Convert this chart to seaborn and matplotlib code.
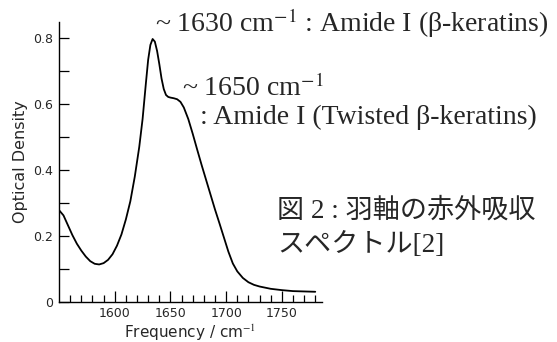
import numpy as np
import pandas as pd
import matplotlib
matplotlib.use("Agg")
import matplotlib.pyplot as plt
from matplotlib.ticker import MultipleLocator, FixedLocator
import seaborn as sns

# IR spectrum (frequency in cm-1, optical density)
freq = [1550, 1554, 1558, 1562, 1566, 1570, 1574, 1578, 1582, 1586, 1590, 1594,
        1598, 1602, 1606, 1610, 1614, 1618, 1622, 1625, 1628, 1630, 1632, 1634,
        1636, 1638, 1640, 1642, 1644, 1646, 1648, 1650, 1653, 1656, 1659, 1662,
        1666, 1670, 1674, 1678, 1682, 1686, 1690, 1694, 1698, 1702, 1706, 1710,
        1715, 1720, 1725, 1730, 1740, 1750, 1760, 1770, 1780]
od = [0.278, 0.262, 0.232, 0.202, 0.176, 0.155, 0.137, 0.123, 0.115, 0.113, 0.117, 0.127,
      0.144, 0.170, 0.204, 0.250, 0.305, 0.380, 0.470, 0.555, 0.665, 0.735, 0.780, 0.798,
      0.790, 0.762, 0.722, 0.678, 0.646, 0.628, 0.622, 0.620, 0.618, 0.615, 0.607, 0.590,
      0.555, 0.510, 0.462, 0.415, 0.370, 0.325, 0.280, 0.238, 0.195, 0.152, 0.116, 0.092,
      0.072, 0.059, 0.051, 0.046, 0.039, 0.035, 0.032, 0.031, 0.030]

ytick_vals = [0, 0.2, 0.4, 0.6, 0.8]
ytick_labels = ["0", "0.2", "0.4", "0.6", "0.8"]
xtick_vals = [1600, 1650, 1700, 1750]

df = pd.DataFrame({"freq": freq, "od": od})

sns.set_style("ticks")
plt.rcParams["font.family"] = ["DejaVu Sans"]
plt.rcParams["mathtext.fontset"] = "stix"

fig = plt.figure(figsize=(5.57, 3.42), dpi=100)
ax = fig.add_axes([0.106, 0.118, 0.472, 0.818])

sns.lineplot(data=df, x="freq", y="od", color="black", linewidth=1.3, ax=ax)

ax.set_xlim(1550, 1786)
ax.set_ylim(0, 0.85)
ax.set_yticks(ytick_vals)
ax.set_yticklabels(ytick_labels)
ax.yaxis.set_minor_locator(MultipleLocator(0.1))
ax.set_xticks(xtick_vals)
ax.xaxis.set_minor_locator(FixedLocator(list(range(1560, 1790, 10))))
ax.tick_params(axis="both", which="both", direction="in", labelsize=9, width=0.9, color="black")
ax.tick_params(axis="y", which="both", length=7, pad=4)
ax.tick_params(axis="x", which="major", length=8, pad=4)
ax.tick_params(axis="x", which="minor", length=5)
sns.despine(ax=ax)
for s in ["left", "bottom"]:
    ax.spines[s].set_linewidth(1.0)
    ax.spines[s].set_color("black")

ax.set_xlabel("Frequency / cm$^{-1}$", fontsize=11, labelpad=2)
ax.set_ylabel("Optical Density", fontsize=11.5, labelpad=4)

serif = ["Liberation Serif", "Noto Sans CJK JP"]
fig.text(155 / 557, 1 - 23 / 342, "~ 1630 cm$^{-1}$ : Amide I (β-keratins)",
         family=serif, fontsize=20, va="center", ha="left")
fig.text(182 / 557, 1 - 88 / 342, "~ 1650 cm$^{-1}$",
         family=serif, fontsize=20, va="center", ha="left")
fig.text(200 / 557, 1 - 117 / 342, ": Amide I (Twisted β-keratins)",
         family=serif, fontsize=20, va="center", ha="left")
fig.text(277 / 557, 1 - 211 / 342, "図 2 : 羽軸の赤外吸収",
         family=serif, fontsize=19.5, va="center", ha="left")
fig.text(277 / 557, 1 - 245 / 342, "スペクトル[2]",
         family=serif, fontsize=19.5, va="center", ha="left")

fig.savefig("out.png", dpi=100)
